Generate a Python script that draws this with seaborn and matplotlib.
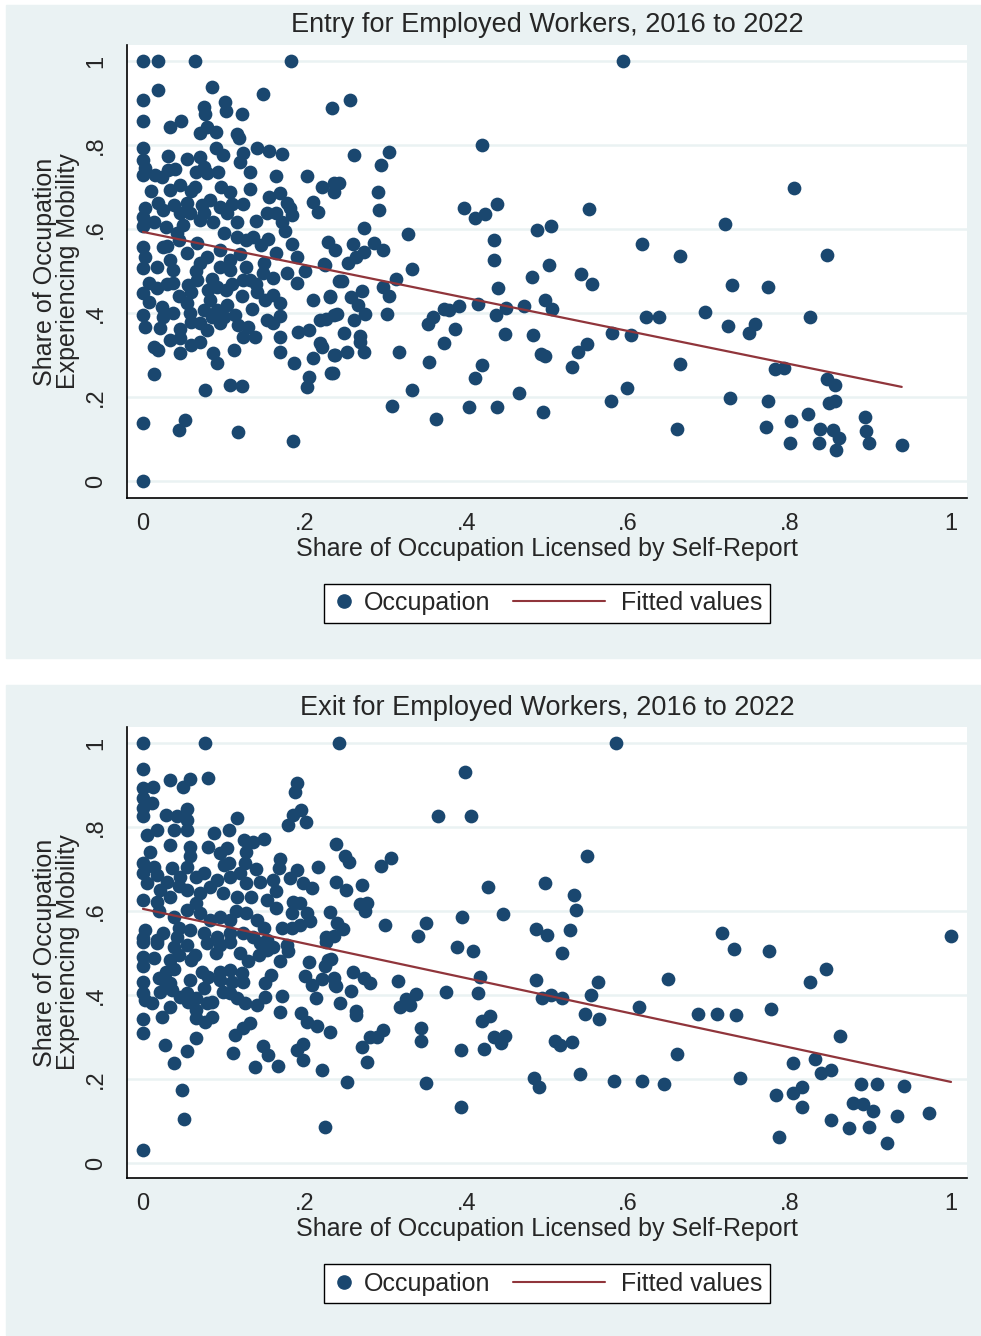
import matplotlib
matplotlib.use("Agg")
import pandas as pd
import matplotlib.pyplot as plt
import seaborn as sns
from matplotlib.patches import Rectangle
from matplotlib.lines import Line2D
from matplotlib.legend_handler import HandlerBase

# (share licensed, share experiencing mobility)
entry_points = [
    (0, 1.0), (0.018, 1.0), (0.064, 1.0), (0.183, 1.0),
    (0.019, 0.931), (0, 0.907), (0.085, 0.937), (0.148, 0.921), (0.234, 0.887), (0.076, 0.891),
    (0.101, 0.902), (0.103, 0.881), (0.077, 0.874), (0.123, 0.874),
    (0, 0.857), (0.033, 0.842), (0.047, 0.856), (0.071, 0.828), (0.079, 0.842), (0.090, 0.832),
    (0.116, 0.825), (0.119, 0.816),
    (0, 0.792), (0.141, 0.792), (0.156, 0.786), (0.172, 0.778), (0.031, 0.774), (0.090, 0.792),
    (0.099, 0.776), (0.124, 0.780),
    (0, 0.764), (0, 0.729), (0.002, 0.746), (0.054, 0.766), (0.071, 0.771), (0.075, 0.748),
    (0.120, 0.760), (0.132, 0.736), (0.015, 0.729), (0.023, 0.723), (0.031, 0.740), (0.040, 0.742),
    (0.066, 0.736), (0.079, 0.733), (0.093, 0.736), (0.165, 0.725), (0.203, 0.727), (0.221, 0.701),
    (0.236, 0.710), (0.236, 0.689),
    (0.033, 0.693), (0.046, 0.705), (0.064, 0.701), (0.097, 0.701), (0.108, 0.689), (0.132, 0.695),
    (0.156, 0.677), (0.170, 0.685), (0.178, 0.661), (0.182, 0.649), (0.184, 0.633), (0.210, 0.665),
    (0.217, 0.641), (0.124, 0.660), (0.153, 0.637), (0.165, 0.637), (0.172, 0.617), (0.176, 0.594),
    (0.003, 0.649), (0, 0.629), (0, 0.606), (0.019, 0.661), (0.025, 0.645), (0.038, 0.657),
    (0.054, 0.661), (0.046, 0.637), (0.058, 0.637), (0.073, 0.657), (0.083, 0.669), (0.075, 0.637),
    (0.095, 0.653), (0.104, 0.637), (0.116, 0.617), (0.071, 0.621), (0.087, 0.617), (0.013, 0.617),
    (0.029, 0.605),
    (0.128, 0.574), (0.136, 0.582), (0.155, 0.575), (0.146, 0.562), (0.165, 0.542), (0.184, 0.564),
    (0.190, 0.534), (0.229, 0.570), (0.238, 0.550), (0.224, 0.517),
    (0, 0.558), (0.003, 0.534), (0.025, 0.558), (0.044, 0.574), (0.054, 0.542), (0.067, 0.566),
    (0.079, 0.534), (0.095, 0.550), (0.108, 0.526), (0.116, 0.582), (0.033, 0.526), (0.042, 0.590),
    (0, 0.506), (0.017, 0.510), (0.037, 0.502), (0.071, 0.518), (0.095, 0.510), (0.108, 0.502),
    (0.128, 0.510), (0.149, 0.494), (0.161, 0.483), (0.190, 0.471), (0.178, 0.494), (0.225, 0.514),
    (0.242, 0.475),
    (0.007, 0.471), (0.017, 0.459), (0.037, 0.471), (0.056, 0.467), (0.059, 0.451), (0.067, 0.479),
    (0.081, 0.455), (0.091, 0.463), (0.103, 0.455), (0.124, 0.479), (0.132, 0.479), (0.123, 0.440),
    (0.141, 0.451), (0.151, 0.431), (0.161, 0.443), (0.169, 0.424),
    (0, 0.447), (0.007, 0.427), (0, 0.395), (0.003, 0.367), (0.023, 0.415), (0.025, 0.390),
    (0.021, 0.365), (0.037, 0.399), (0.046, 0.363), (0.054, 0.423), (0.058, 0.399), (0.060, 0.379),
    (0.075, 0.407), (0.071, 0.375), (0.083, 0.431), (0.091, 0.407), (0.095, 0.375), (0.104, 0.419),
    (0.114, 0.395), (0.100, 0.391), (0.118, 0.371), (0.130, 0.367), (0.124, 0.343), (0.138, 0.343),
    (0.079, 0.359),
    (0.033, 0.336), (0.046, 0.340), (0.060, 0.324), (0.071, 0.332), (0.013, 0.320), (0.019, 0.312),
    (0.046, 0.304), (0.087, 0.304), (0.091, 0.280), (0.113, 0.312),
    (0.013, 0.255), (0.077, 0.217), (0.108, 0.229), (0.123, 0.226), (0, 0.139), (0.052, 0.145),
    (0.044, 0.121), (0.118, 0.116), (0.186, 0.095), (0, 0.0),
    (0.169, 0.342), (0.169, 0.307), (0.153, 0.383), (0.161, 0.376), (0.169, 0.393), (0.192, 0.355),
    (0.205, 0.360), (0.187, 0.280), (0.211, 0.431), (0.231, 0.440), (0.219, 0.383), (0.226, 0.385),
    (0.236, 0.395), (0.219, 0.328), (0.222, 0.320), (0.211, 0.294), (0.236, 0.300), (0.206, 0.248),
    (0.203, 0.223), (0.233, 0.256),
    (0.256, 0.907), (0.594, 1.0), (0.261, 0.776), (0.304, 0.783), (0.295, 0.752), (0.242, 0.709),
    (0.291, 0.687), (0.292, 0.645), (0.420, 0.799), (0.397, 0.651), (0.411, 0.627), (0.423, 0.635),
    (0.438, 0.659), (0.552, 0.648),
    (0.273, 0.603), (0.328, 0.588), (0.260, 0.564), (0.273, 0.546), (0.264, 0.534), (0.286, 0.566),
    (0.297, 0.550), (0.254, 0.520), (0.434, 0.574), (0.434, 0.526), (0.488, 0.598), (0.505, 0.607),
    (0.502, 0.514), (0.333, 0.505),
    (0.246, 0.475), (0.313, 0.481), (0.231, 0.439), (0.257, 0.437), (0.271, 0.453), (0.266, 0.419),
    (0.297, 0.461), (0.304, 0.441), (0.240, 0.398), (0.275, 0.397), (0.302, 0.397), (0.261, 0.383),
    (0.439, 0.460), (0.482, 0.486), (0.542, 0.493), (0.556, 0.468),
    (0.414, 0.421), (0.449, 0.413), (0.471, 0.417), (0.497, 0.431), (0.506, 0.409), (0.372, 0.409),
    (0.379, 0.408), (0.391, 0.417), (0.359, 0.390), (0.353, 0.374), (0.437, 0.396), (0.386, 0.362),
    (0.448, 0.350), (0.483, 0.348), (0.580, 0.352), (0.604, 0.347), (0.623, 0.391),
    (0.249, 0.353), (0.268, 0.344), (0.268, 0.332), (0.274, 0.308), (0.252, 0.308), (0.238, 0.300),
    (0.235, 0.256), (0.317, 0.306), (0.354, 0.284), (0.373, 0.328), (0.493, 0.302), (0.497, 0.298),
    (0.538, 0.306), (0.550, 0.325), (0.531, 0.272), (0.419, 0.275), (0.411, 0.246), (0.333, 0.217),
    (0.465, 0.210), (0.599, 0.222), (0.579, 0.190), (0.308, 0.179), (0.403, 0.177), (0.438, 0.175),
    (0.495, 0.165), (0.363, 0.148),
    (0.806, 0.697), (0.720, 0.612), (0.617, 0.564), (0.664, 0.536), (0.846, 0.539), (0.729, 0.467),
    (0.773, 0.463), (0.638, 0.391), (0.696, 0.403), (0.724, 0.368), (0.757, 0.374), (0.750, 0.353),
    (0.826, 0.391), (0.665, 0.279), (0.782, 0.266), (0.793, 0.268), (0.847, 0.243), (0.857, 0.229),
    (0.726, 0.198), (0.773, 0.190), (0.849, 0.185), (0.857, 0.190), (0.661, 0.124), (0.771, 0.129),
    (0.802, 0.143), (0.823, 0.159), (0.893, 0.152), (0.838, 0.123), (0.854, 0.121), (0.861, 0.102),
    (0.895, 0.119), (0.801, 0.090), (0.837, 0.091), (0.858, 0.074), (0.898, 0.090), (0.939, 0.086),
    # hidden points in the dense cluster
    (0.010, 0.690), (0.060, 0.690), (0.110, 0.660), (0.140, 0.620), (0.050, 0.610), (0.100, 0.590),
    (0.120, 0.540), (0.150, 0.520), (0.030, 0.560), (0.065, 0.500), (0.085, 0.480), (0.110, 0.470),
    (0.045, 0.440), (0.135, 0.410), (0.085, 0.390), (0.030, 0.470), (0.200, 0.500), (0.140, 0.470),
]

exit_points = [
    (0, 1.0), (0.077, 1.0), (0.242, 1.0), (0, 0.937), (0.033, 0.912), (0.058, 0.914), (0.050, 0.895),
    (0.081, 0.916), (0, 0.892), (0.012, 0.896), (0, 0.870), (0.011, 0.856), (0, 0.846), (0, 0.825),
    (0.029, 0.829), (0.042, 0.825), (0.054, 0.842), (0.054, 0.817), (0.038, 0.793), (0.054, 0.793),
    (0.017, 0.793), (0.005, 0.781), (0.033, 0.757), (0.058, 0.753), (0.088, 0.786), (0.081, 0.753),
    (0.106, 0.793), (0.116, 0.821),
    (0.190, 0.904), (0.188, 0.884), (0.196, 0.840), (0.186, 0.829), (0.180, 0.805), (0.202, 0.813),
    (0.125, 0.769), (0.136, 0.765), (0.150, 0.771), (0.128, 0.741), (0.095, 0.737), (0.104, 0.749),
    (0.106, 0.714), (0.126, 0.714),
    (0.009, 0.741), (0, 0.714), (0.013, 0.705), (0, 0.690), (0.017, 0.686), (0.005, 0.666),
    (0.058, 0.730), (0.054, 0.705), (0.036, 0.702), (0.046, 0.682), (0.066, 0.682), (0.075, 0.690),
    (0.091, 0.674), (0.108, 0.682), (0.120, 0.690), (0.128, 0.666), (0.145, 0.670), (0.161, 0.674),
    (0.169, 0.723), (0.168, 0.703), (0.190, 0.698), (0.182, 0.678), (0.198, 0.666), (0.209, 0.654),
    (0.216, 0.705), (0.239, 0.760), (0.239, 0.670),
    (0, 0.626), (0.021, 0.650), (0.017, 0.622), (0.033, 0.634), (0.054, 0.650), (0.071, 0.642),
    (0.083, 0.658), (0.099, 0.642), (0.116, 0.634), (0.134, 0.634), (0.153, 0.626), (0.165, 0.648),
    (0.165, 0.606), (0.186, 0.622), (0.194, 0.618), (0.203, 0.594), (0.184, 0.594), (0.231, 0.598),
    (0.240, 0.571), (0.172, 0.559), (0.194, 0.567), (0.207, 0.575),
    (0.003, 0.555), (0, 0.535), (0.017, 0.531), (0.025, 0.547), (0.038, 0.586), (0.054, 0.602),
    (0.071, 0.594), (0.083, 0.579), (0.095, 0.586), (0.108, 0.579), (0.128, 0.594), (0.141, 0.579),
    (0.042, 0.539), (0.058, 0.555), (0.075, 0.547), (0.091, 0.539), (0.108, 0.547), (0.124, 0.547),
    (0.136, 0.539), (0.153, 0.531), (0.178, 0.519), (0.227, 0.539),
    (0, 0.527), (0.017, 0.523), (0.038, 0.515), (0.054, 0.519), (0.079, 0.523), (0.095, 0.519),
    (0.108, 0.527), (0.145, 0.523), (0.153, 0.507), (0.161, 0.515), (0.180, 0.505), (0.143, 0.495),
    (0.227, 0.527),
    (0, 0.491), (0, 0.468), (0.013, 0.487), (0.033, 0.483), (0.044, 0.495), (0.064, 0.495),
    (0.060, 0.483), (0.029, 0.455), (0.038, 0.462), (0.027, 0.432), (0.033, 0.428), (0.058, 0.436),
    (0.073, 0.455), (0.081, 0.444), (0.095, 0.455), (0.095, 0.436), (0.108, 0.460), (0.122, 0.452),
    (0.124, 0.432), (0.159, 0.448), (0.151, 0.428), (0.205, 0.478), (0.229, 0.483), (0.225, 0.469),
    (0.201, 0.445), (0.209, 0.424), (0.221, 0.437), (0.236, 0.440), (0.238, 0.424), (0.172, 0.398),
    (0.214, 0.394),
    (0, 0.432), (0, 0.404), (0.003, 0.389), (0.011, 0.380), (0.021, 0.408), (0.036, 0.412),
    (0.033, 0.372), (0.046, 0.396), (0.054, 0.404), (0.056, 0.384), (0.066, 0.392), (0.075, 0.416),
    (0.066, 0.364), (0.079, 0.380), (0.085, 0.384), (0.099, 0.408), (0.108, 0.404), (0.116, 0.392),
    (0.126, 0.380), (0.141, 0.376), (0.151, 0.396), (0.066, 0.345), (0.077, 0.336), (0.085, 0.347),
    (0, 0.343), (0, 0.310), (0.023, 0.348), (0.170, 0.360), (0.114, 0.305), (0.124, 0.321),
    (0.132, 0.334), (0.149, 0.279), (0.155, 0.257), (0.167, 0.231), (0.139, 0.228), (0.111, 0.263),
    (0.065, 0.298), (0.055, 0.267), (0.027, 0.280), (0.038, 0.237), (0.048, 0.174), (0.051, 0.105),
    (0, 0.031), (0.225, 0.085), (0.196, 0.357), (0.203, 0.336), (0.215, 0.326), (0.231, 0.313),
    (0.198, 0.283), (0.190, 0.269), (0.198, 0.245), (0.222, 0.221),
    (0.398, 0.932), (0.365, 0.825), (0.406, 0.825), (0.585, 1.0), (0.250, 0.731), (0.255, 0.717),
    (0.295, 0.706), (0.307, 0.725), (0.549, 0.730), (0.251, 0.650), (0.271, 0.662), (0.427, 0.658),
    (0.498, 0.667), (0.534, 0.638), (0.536, 0.602), (0.269, 0.617), (0.277, 0.620), (0.275, 0.601),
    (0.445, 0.593), (0.395, 0.585), (0.248, 0.556), (0.236, 0.541), (0.300, 0.566), (0.350, 0.571),
    (0.340, 0.541), (0.486, 0.557), (0.500, 0.543), (0.528, 0.555), (0.389, 0.515), (0.409, 0.504),
    (0.518, 0.499), (0.233, 0.485), (0.260, 0.455), (0.273, 0.440), (0.281, 0.428), (0.239, 0.421),
    (0.257, 0.410), (0.315, 0.434), (0.417, 0.444), (0.487, 0.436), (0.563, 0.432), (0.338, 0.402),
    (0.325, 0.390), (0.318, 0.372), (0.330, 0.376), (0.375, 0.408), (0.414, 0.405), (0.494, 0.392),
    (0.505, 0.400), (0.519, 0.392), (0.554, 0.400), (0.244, 0.380), (0.264, 0.362), (0.263, 0.352),
    (0.281, 0.301), (0.289, 0.299), (0.297, 0.317), (0.271, 0.275), (0.277, 0.241), (0.344, 0.321),
    (0.344, 0.290), (0.420, 0.338), (0.429, 0.350), (0.434, 0.301), (0.443, 0.285), (0.448, 0.302),
    (0.394, 0.269), (0.422, 0.271), (0.547, 0.355), (0.564, 0.343), (0.510, 0.291), (0.516, 0.281),
    (0.531, 0.289), (0.253, 0.192), (0.350, 0.191), (0.484, 0.203), (0.490, 0.182), (0.541, 0.212),
    (0.583, 0.195), (0.617, 0.195), (0.394, 0.133), (0.614, 0.371),
    (0.717, 0.547), (0.731, 0.510), (0.775, 0.504), (1.0, 0.540), (0.845, 0.463), (0.826, 0.431),
    (0.650, 0.439), (0.687, 0.355), (0.711, 0.355), (0.734, 0.353), (0.777, 0.366), (0.661, 0.259),
    (0.863, 0.302), (0.804, 0.237), (0.832, 0.248), (0.839, 0.214), (0.851, 0.221), (0.645, 0.187),
    (0.739, 0.203), (0.784, 0.161), (0.805, 0.167), (0.816, 0.180), (0.816, 0.134), (0.889, 0.187),
    (0.908, 0.187), (0.942, 0.184), (0.879, 0.142), (0.891, 0.140), (0.903, 0.124), (0.933, 0.113),
    (0.973, 0.118), (0.851, 0.102), (0.874, 0.084), (0.898, 0.086), (0.921, 0.047), (0.787, 0.061),
    # hidden points in the dense cluster
    (0.020, 0.600), (0.065, 0.620), (0.115, 0.600), (0.150, 0.560), (0.045, 0.560), (0.090, 0.500),
    (0.130, 0.480), (0.020, 0.440), (0.110, 0.430), (0.045, 0.660), (0.100, 0.710), (0.170, 0.480),
    (0.140, 0.700), (0.030, 0.670), (0.185, 0.560), (0.120, 0.500),
]

# fitted values (end points of the regression lines)
entry_fit_x = [0.0, 0.939]
entry_fit_y = [0.593, 0.224]
exit_fit_x = [0.0, 1.0]
exit_fit_y = [0.605, 0.193]

tick_values = [0, 0.2, 0.4, 0.6, 0.8, 1]
tick_labels = ["0", ".2", ".4", ".6", ".8", "1"]

NAVY = "#1a476f"
MAROON = "#90353b"
BG = "#eaf2f3"

sns.set_theme(style="white")
plt.rcParams["font.family"] = ["Liberation Sans", "DejaVu Sans"]


class DotHandler(HandlerBase):
    def create_artists(self, legend, orig_handle, xdescent, ydescent, width, height, fontsize, trans):
        dot = Line2D([width / 2 - xdescent], [height / 2 - ydescent], marker="o", ls="",
                     color=NAVY, markersize=9.5)
        dot.set_transform(trans)
        return [dot]


class LongLineHandler(HandlerBase):
    def create_artists(self, legend, orig_handle, xdescent, ydescent, width, height, fontsize, trans):
        y = height / 2 - ydescent
        ln = Line2D([-xdescent - 3.0 * fontsize, width - xdescent - 0.35 * fontsize], [y, y],
                    color=MAROON, lw=1.5)
        ln.set_transform(trans)
        return [ln]


W, H = 981, 1336
fig = plt.figure(figsize=(W / 100, H / 100), dpi=100)
fig.patch.set_facecolor("white")

# outer graph regions
for top, bottom in [(5, 658), (685, 1335)]:
    fig.add_artist(Rectangle((6 / W, 1 - bottom / H), 974 / W, (bottom - top) / H,
                             transform=fig.transFigure, color=BG, zorder=-1))


def draw_panel(box, ylim, points, fit_x, fit_y, title, title_y, legend_y):
    left, top, right, bottom = box
    ax = fig.add_axes([left / W, 1 - bottom / H, (right - left) / W, (bottom - top) / H])
    df = pd.DataFrame(points, columns=["share", "mobility"])
    sns.scatterplot(data=df, x="share", y="mobility", ax=ax, color=NAVY, s=98,
                    linewidth=0, legend=False, zorder=3)
    sns.lineplot(x=fit_x, y=fit_y, ax=ax, color=MAROON, lw=1.6, zorder=4)

    ax.set_xlim(-0.0198, 1.0198)
    ax.set_ylim(*ylim)
    ax.set_xticks(tick_values)
    ax.set_xticklabels(tick_labels, fontsize=17)
    ax.set_yticks(tick_values)
    ax.set_yticklabels(tick_labels, fontsize=17, rotation=90, va="center")
    ax.tick_params(axis="both", direction="out", length=6.5, width=1, color="black")
    ax.tick_params(axis="x", pad=4)
    ax.tick_params(axis="y", pad=8)
    ax.yaxis.grid(True, color=BG, lw=1.8)
    ax.xaxis.grid(False)
    ax.set_axisbelow(True)
    for side in ["top", "right"]:
        ax.spines[side].set_visible(False)
    for side in ["left", "bottom"]:
        ax.spines[side].set_color("black")
        ax.spines[side].set_linewidth(1.2)

    ax.set_xlabel("Share of Occupation Licensed by Self-Report", fontsize=18)
    ax.xaxis.set_label_coords(0.5, -0.086)
    ax.set_ylabel("Share of Occupation\nExperiencing Mobility", fontsize=18, linespacing=0.92)
    ax.yaxis.set_label_coords(-0.056, 0.5)
    ax.text(0.5, title_y, title, transform=ax.transAxes, ha="center", va="center", fontsize=19.5)

    h_dot = ax.collections[0]
    h_line = ax.lines[0]
    leg = ax.legend([h_dot, h_line], ["Occupation", "Fitted values"], ncol=2, loc="center",
                    bbox_to_anchor=(0.5, legend_y), fontsize=18, frameon=True, fancybox=False,
                    edgecolor="black", framealpha=1, borderpad=0.3, handlelength=1.0,
                    handletextpad=0.3, columnspacing=3.9, borderaxespad=0,
                    handler_map={h_dot: DotHandler(), h_line: LongLineHandler()})
    leg.get_frame().set_linewidth(1.0)
    return ax


draw_panel((127, 45, 967, 498), (-0.0405, 1.038), entry_points, entry_fit_x, entry_fit_y,
           "Entry for Employed Workers, 2016 to 2022", 1.044, -0.232)
draw_panel((127, 727, 967, 1178), (-0.0357, 1.038), exit_points, exit_fit_x, exit_fit_y,
           "Exit for Employed Workers, 2016 to 2022", 1.042, -0.235)

fig.savefig("out.png", dpi=100)
